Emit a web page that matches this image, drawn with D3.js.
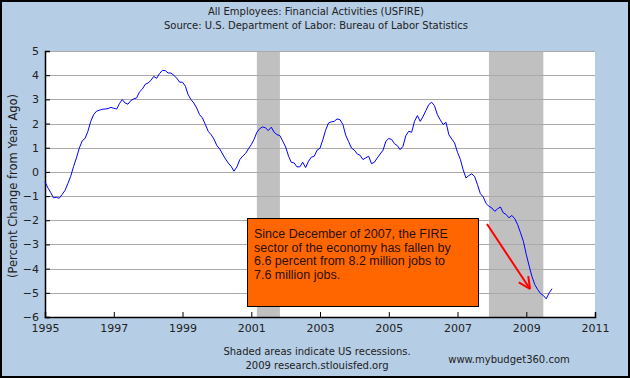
<!DOCTYPE html>
<html>
<head>
<meta charset="utf-8">
<script src="https://cdn.jsdelivr.net/npm/d3@7"></script>
<style>
  html, body { margin: 0; padding: 0; background: #b5cde5; }
  svg { display: block; }
</style>
</head>
<body>
<div id="chart"></div>
<script>
// USFIRE, percent change from year ago, monthly from Jan 1995
const startMonth = '1995-01';
const usfire = [
  -0.41, -0.66, -0.84, -1.07, -1.05, -1.09, -0.94, -0.77, -0.48, -0.18, 0.23, 0.58,
  0.99, 1.29, 1.38, 1.68, 2.09, 2.37, 2.51, 2.55, 2.59, 2.60, 2.62, 2.67,
  2.63, 2.60, 2.82, 2.99, 2.85, 2.80, 2.95, 3.02, 3.06, 3.31, 3.43, 3.62,
  3.68, 3.79, 3.95, 3.87, 4.06, 4.20, 4.19, 4.09, 4.09, 3.99, 3.88, 3.71,
  3.71, 3.54, 3.20, 2.99, 2.85, 2.64, 2.37, 2.23, 1.96, 1.68, 1.54, 1.36,
  1.09, 0.95, 0.74, 0.54, 0.37, 0.23, 0.03, 0.21, 0.51, 0.65, 0.76, 0.95,
  1.13, 1.36, 1.64, 1.79, 1.86, 1.82, 1.71, 1.85, 1.64, 1.54, 1.50, 1.27,
  1.03, 0.65, 0.40, 0.37, 0.21, 0.21, 0.40, 0.18, 0.44, 0.61, 0.65, 0.90,
  0.98, 1.34, 1.72, 2.02, 2.07, 2.09, 2.19, 2.16, 1.96, 1.52, 1.25, 0.99,
  0.90, 0.74, 0.69, 0.51, 0.58, 0.65, 0.34, 0.40, 0.58, 0.74, 0.90, 1.27,
  1.38, 1.34, 1.17, 1.09, 0.92, 1.06, 1.50, 1.68, 1.64, 2.09, 2.33, 2.09,
  2.30, 2.55, 2.78, 2.88, 2.74, 2.37, 2.16, 1.96, 2.05, 1.54, 1.36, 1.20,
  0.81, 0.51, 0.10, -0.25, -0.15, -0.08, -0.18, -0.52, -0.90, -1.03, -1.31, -1.42,
  -1.49, -1.63, -1.53, -1.45, -1.69, -1.76, -1.90, -1.80, -1.94, -2.18, -2.52, -2.87,
  -3.42, -3.90, -4.31, -4.66, -4.86, -5.03, -5.11, -5.25, -5.00, -4.83
];

const recessions = [
  ['2001-03-01', '2001-11-01'],
  ['2007-12-01', '2009-07-01']
];
const yTicks = [5, 4, 3, 2, 1, 0, -1, -2, -3, -4, -5, -6];
const xTickYears = [1995, 1997, 1999, 2001, 2003, 2005, 2007, 2009, 2011];

const titleLines = [
  'All Employees: Financial Activities (USFIRE)',
  'Source: U.S. Department of Labor: Bureau of Labor Statistics'
];
const noteLines = [
  'Since December of 2007, the FIRE',
  'sector of the economy has fallen by',
  '6.6 percent from 8.2 million jobs to',
  '7.6 million jobs.'
];

const width = 630;
const height = 378;
const plot = { left: 45, right: 595, top: 51, bottom: 317 };
const axisFont = 'DejaVu Sans, Verdana, sans-serif';

const parse = d3.timeParse('%Y-%m-%d');
const start = d3.timeParse('%Y-%m')(startMonth);
const series = usfire.map((v, i) => ({ date: d3.timeMonth.offset(start, i), value: v }));

const x = d3.scaleTime()
  .domain([new Date(1995, 0, 1), new Date(2011, 0, 1)])
  .range([plot.left, plot.right]);
const y = d3.scaleLinear()
  .domain([-6, 5])
  .range([plot.bottom, plot.top]);

const svg = d3.select('#chart').append('svg')
  .attr('width', width)
  .attr('height', height);

svg.append('rect')
  .attr('x', 0).attr('y', 0)
  .attr('width', width).attr('height', height)
  .attr('fill', '#b5cde5');

// plot background
svg.append('rect')
  .attr('x', plot.left).attr('y', plot.top)
  .attr('width', plot.right - plot.left).attr('height', plot.bottom - plot.top)
  .attr('fill', '#ffffff');

// recession bars
svg.selectAll('.recession')
  .data(recessions)
  .enter()
  .append('rect')
  .attr('class', 'recession')
  .attr('x', d => x(parse(d[0])))
  .attr('y', plot.top)
  .attr('width', d => x(parse(d[1])) - x(parse(d[0])))
  .attr('height', plot.bottom - plot.top)
  .attr('fill', '#c0c0c0');

// grid
svg.selectAll('.grid')
  .data(yTicks.slice(0, -1))
  .enter()
  .append('line')
  .attr('class', 'grid')
  .attr('x1', plot.left)
  .attr('x2', plot.right)
  .attr('y1', d => Math.round(y(d)) + 0.5)
  .attr('y2', d => Math.round(y(d)) + 0.5)
  .attr('stroke', '#aaaaaa')
  .attr('stroke-width', 1);

// y axis
const yAxis = d3.axisLeft(y)
  .tickValues(yTicks)
  .tickSize(-5)
  .tickPadding(6)
  .tickFormat(d3.format('d'));

const yg = svg.append('g')
  .attr('transform', `translate(${plot.left},0)`)
  .call(yAxis);
yg.select('.domain').attr('stroke', '#000').attr('stroke-width', 1.5);
yg.selectAll('.tick line').attr('stroke', '#000');
yg.selectAll('.tick text')
  .attr('font-family', axisFont)
  .attr('font-size', 11)
  .attr('fill', '#222');

// x axis
const xAxis = d3.axisBottom(x)
  .tickValues(xTickYears.map(yr => new Date(yr, 0, 1)))
  .tickSize(-5)
  .tickPadding(7)
  .tickFormat(d3.timeFormat('%Y'));

const xg = svg.append('g')
  .attr('transform', `translate(0,${plot.bottom})`)
  .call(xAxis);
xg.select('.domain').attr('stroke', '#000').attr('stroke-width', 1.5);
xg.selectAll('.tick line').attr('stroke', '#000');
xg.selectAll('.tick text')
  .attr('font-family', axisFont)
  .attr('font-size', 11)
  .attr('fill', '#222');

// data line
const line = d3.line()
  .x(d => x(d.date))
  .y(d => y(d.value));

svg.append('path')
  .datum(series)
  .attr('d', line)
  .attr('fill', 'none')
  .attr('stroke', '#0000ff')
  .attr('stroke-width', 1);

// titles
svg.selectAll('.title')
  .data(titleLines)
  .enter()
  .append('text')
  .attr('class', 'title')
  .attr('x', 316)
  .attr('y', (d, i) => 15 + i * 14)
  .attr('text-anchor', 'middle')
  .attr('font-family', axisFont)
  .attr('font-size', 10)
  .attr('fill', '#222')
  .text(d => d);

svg.append('text')
  .attr('transform', 'translate(17,186) rotate(-90)')
  .attr('text-anchor', 'middle')
  .attr('font-family', axisFont)
  .attr('font-size', 11.5)
  .attr('fill', '#222')
  .text('(Percent Change from Year Ago)');

svg.append('text')
  .attr('x', 317)
  .attr('y', 355)
  .attr('text-anchor', 'middle')
  .attr('font-family', axisFont)
  .attr('font-size', 10)
  .attr('fill', '#222')
  .text('Shaded areas indicate US recessions.');

svg.append('text')
  .attr('x', 317)
  .attr('y', 369)
  .attr('text-anchor', 'middle')
  .attr('font-family', axisFont)
  .attr('font-size', 10)
  .attr('fill', '#222')
  .text('2009 research.stlouisfed.org');

svg.append('text')
  .attr('x', 509)
  .attr('y', 363)
  .attr('text-anchor', 'middle')
  .attr('font-family', axisFont)
  .attr('font-size', 10)
  .attr('fill', '#222')
  .text('www.mybudget360.com');

// annotation box
svg.append('rect')
  .attr('x', 247.5).attr('y', 218.5)
  .attr('width', 231).attr('height', 88)
  .attr('fill', '#ff6600')
  .attr('stroke', '#000')
  .attr('stroke-width', 1);

svg.selectAll('.note')
  .data(noteLines)
  .enter()
  .append('text')
  .attr('class', 'note')
  .attr('x', 254)
  .attr('y', (d, i) => 238 + i * 13.7)
  .attr('font-family', 'Liberation Sans, Arial, sans-serif')
  .attr('font-size', 12.5)
  .attr('fill', '#2a1000')
  .text(d => d);

// arrow
const arrow = { x1: 487, y1: 224, x2: 530, y2: 289 };
const ang = Math.atan2(arrow.y2 - arrow.y1, arrow.x2 - arrow.x1);
const headLen = 13;
svg.append('line')
  .attr('x1', arrow.x1).attr('y1', arrow.y1)
  .attr('x2', arrow.x2).attr('y2', arrow.y2)
  .attr('stroke', '#ff0000')
  .attr('stroke-width', 2);
[-0.45, 0.45].forEach((da) => {
  svg.append('line')
    .attr('x1', arrow.x2).attr('y1', arrow.y2)
    .attr('x2', arrow.x2 - headLen * Math.cos(ang + da))
    .attr('y2', arrow.y2 - headLen * Math.sin(ang + da))
    .attr('stroke', '#ff0000')
    .attr('stroke-width', 2);
});

// outer frame
svg.append('rect')
  .attr('x', 1).attr('y', 1)
  .attr('width', width - 2).attr('height', height - 2)
  .attr('fill', 'none')
  .attr('stroke', '#000')
  .attr('stroke-width', 2);
</script>
</body>
</html>
